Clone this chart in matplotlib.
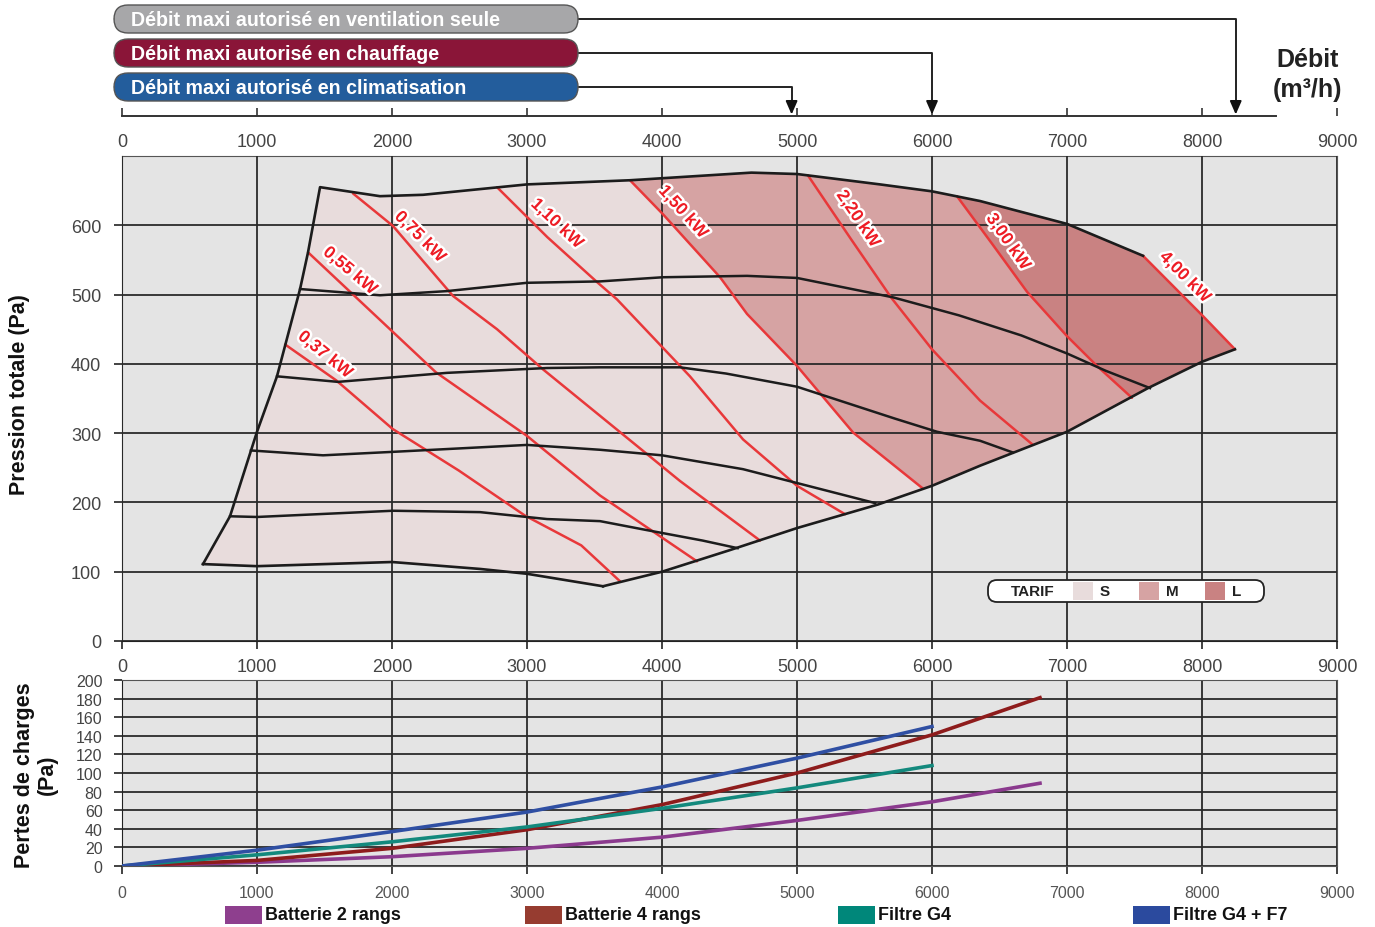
import numpy as np
import matplotlib
matplotlib.use('Agg')
import matplotlib.pyplot as plt
from matplotlib import font_manager
from matplotlib.patches import FancyBboxPatch, Rectangle
import matplotlib.patheffects as pe

plt.rcParams['font.family'] = ['Liberation Sans', 'DejaVu Sans']

# police étroite si dispo, sinon Liberation Sans un peu plus petite
_names = {f.name for f in font_manager.fontManager.ttflist}
if 'Liberation Sans Narrow' in _names:
    NARROW, NSCALE = ['Liberation Sans Narrow', 'DejaVu Sans'], 1.0
else:
    NARROW, NSCALE = ['Liberation Sans', 'DejaVu Sans'], 0.83

# --- courbe ventilateur : enveloppe (débit m3/h, pression Pa) ---
left_x = [600, 800, 1000, 1148, 1319, 1378, 1467]
left_y = [111, 180, 302, 382, 508, 561, 655]
top_x = [1467, 1911, 2230, 3000, 3763, 4662, 5000, 5615, 6000, 6356, 7000, 7563]
top_y = [655, 642, 644, 659, 665, 676, 674, 659, 649, 635, 602, 556]
low_x = [3563, 4000, 4500, 5000, 5600, 6000, 6356, 7000, 7600, 8000, 8244]
low_y = [79, 100, 131, 163, 197, 224, 253, 302, 365, 403, 421]
base_x = [600, 1000, 2000, 2652, 3000, 3563]
base_y = [111, 108, 114, 104, 97, 79]

# --- courbes de vitesse (noir) ---
spdA_x = [1319, 1911, 2407, 3000, 3541, 4007, 4630, 5000, 5711, 6200, 6662, 7000, 7287, 7615]
spdA_y = [508, 499, 505, 517, 519, 525, 527, 524, 496, 470, 441, 415, 390, 365]
spdB_x = [1148, 1600, 2407, 3148, 3541, 4133, 4475, 5000, 5725, 6037, 6356, 6600]
spdB_y = [382, 374, 387, 394, 395, 395, 386, 367, 321, 302, 289, 272]
spdC_x = [955, 1489, 2007, 3000, 3541, 4000, 4600, 5000, 5300, 5580]
spdC_y = [275, 268, 273, 283, 276, 268, 248, 228, 213, 199]
spdD_x = [800, 1000, 2007, 2652, 3148, 3541, 3889, 4300, 4560]
spdD_y = [180, 179, 188, 186, 176, 173, 160, 145, 134]

# --- puissances moteur (rouge) ---
p037_x = [1208, 1588, 2005, 2495, 2985, 3402, 3690]
p037_y = [428, 376, 306, 246, 181, 138, 86]
p055_x = [1378, 1985, 2324, 3000, 3541, 4259]
p055_y = [561, 450, 388, 296, 210, 115]
p075_x = [1711, 2007, 2452, 2778, 3119, 3541, 4133, 4726]
p075_y = [646, 599, 498, 450, 392, 325, 231, 145]
p110_x = [2778, 3150, 3519, 3667, 4207, 4600, 5000, 5356]
p110_y = [655, 583, 518, 493, 382, 291, 224, 183]
p150_x = [3763, 4007, 4430, 4630, 5000, 5415, 5933]
p150_y = [665, 616, 525, 472, 397, 301, 220]
p220_x = [5081, 5400, 5700, 6000, 6356, 6748]
p220_y = [672, 580, 495, 421, 347, 283]
p300_x = [6185, 6450, 6704, 7000, 7222, 7481]
p300_y = [642, 572, 504, 440, 397, 351]
p400_x = [7563, 8007, 8244]
p400_y = [556, 469, 421]

power_labels = ['0,37 kW', '0,55 kW', '0,75 kW', '1,10 kW', '1,50 kW', '2,20 kW', '3,00 kW', '4,00 kW']
label_pos = [(1504, 413), (1689, 534), (2207, 583), (3222, 602),
             (4156, 619), (5452, 609), (6563, 576), (7874, 525)]
label_rot = [-39, -40, -45, -43, -48, -56, -55, -45]

# --- débits maxi ---
banner_labels = ['Débit maxi autorisé en ventilation seule',
                 'Débit maxi autorisé en chauffage',
                 'Débit maxi autorisé en climatisation']
banner_flow = [8250, 6000, 4960]
banner_colors = ['#a7a7a9', '#8a1538', '#235d9c']

# --- pertes de charges (Pa) ---
flow_bat = [0, 1000, 2000, 3000, 4000, 5000, 6000, 6800]
bat2 = [0, 4, 10, 19, 31, 49, 69, 89]
bat4 = [0, 6, 19, 39, 66, 100, 141, 181]
flow_filt = [0, 1000, 2000, 3000, 4000, 5000, 6000]
filt_g4 = [0, 12, 26, 42, 62, 84, 108]
filt_g4f7 = [0, 17, 37, 58, 85, 116, 150]
loss_names = ['Batterie 2 rangs', 'Batterie 4 rangs', 'Filtre G4', 'Filtre G4 + F7']
loss_colors = ['#8b3a8e', '#8e1c1c', '#13897d', '#2f4fa3']
swatch_colors = ['#8e3f8e', '#963c30', '#00877a', '#2b4a9e']

tarif_names = ['S', 'M', 'L']
tarif_colors = ['#e8dcdc', '#d6a3a3', '#c98282']


def between(xs, ys, x0, x1):
    xs = np.asarray(xs)
    ys = np.asarray(ys)
    m = (xs > x0) & (xs < x1)
    return list(xs[m]), list(ys[m])


fig = plt.figure(figsize=(13.75, 9.28), dpi=100)
W, H = 1375.0, 928.0
GRID = '#2a2a2a'
TXT = '#444444'

# ================= courbe principale =================
ax = fig.add_axes([122 / W, 1 - 642 / H, 1215 / W, 485 / H])
ax.set_facecolor('#e4e4e4')
ax.set_xlim(0, 9000)
ax.set_ylim(0, 700)
ax.set_xticks(range(0, 9001, 1000))
ax.set_yticks(range(0, 601, 100))
ax.grid(True, color=GRID, lw=1.3)
ax.set_axisbelow(False)
ax.tick_params(direction='out', length=6, width=1.2, color='#222', labelcolor=TXT, labelsize=13)
ax.tick_params(axis='y', pad=9)
ax.tick_params(axis='x', pad=6)
for s in ax.spines.values():
    s.set_color('#555')
ax.spines['left'].set_color('#222')
ax.spines['bottom'].set_color('#222')

# zones tarif
env_x = left_x + top_x[1:] + p400_x[1:] + low_x[::-1][1:] + base_x[::-1][1:]
env_y = left_y + top_y[1:] + p400_y[1:] + low_y[::-1][1:] + base_y[::-1][1:]
ax.fill(env_x, env_y, color=tarif_colors[0], lw=0, zorder=1)

bx, by = between(low_x, low_y, p150_x[-1], p300_x[-1])
tx, ty = between(top_x, top_y, p150_x[0], p300_x[0])
ax.fill(p150_x + bx + p300_x[::-1] + tx[::-1], p150_y + by + p300_y[::-1] + ty[::-1],
        color=tarif_colors[1], lw=0, zorder=1)

bx, by = between(low_x, low_y, p300_x[-1], p400_x[-1])
tx, ty = between(top_x, top_y, p300_x[0], p400_x[0])
ax.fill(p300_x + bx + p400_x[::-1] + tx[::-1], p300_y + by + p400_y[::-1] + ty[::-1],
        color=tarif_colors[2], lw=0, zorder=1)

# puissances
powers = [(p037_x, p037_y), (p055_x, p055_y), (p075_x, p075_y), (p110_x, p110_y),
          (p150_x, p150_y), (p220_x, p220_y), (p300_x, p300_y), (p400_x, p400_y)]
for (px, py) in powers:
    ax.plot(px, py, color='#e8383a', lw=1.8, zorder=3, solid_capstyle='round')

# courbes de vitesse + enveloppe
for cx, cy in [(spdA_x, spdA_y), (spdB_x, spdB_y), (spdC_x, spdC_y), (spdD_x, spdD_y)]:
    ax.plot(cx, cy, color='#1c1c1c', lw=1.8, zorder=3.2)
ax.plot(left_x + top_x[1:], left_y + top_y[1:], color='#1c1c1c', lw=1.9, zorder=3.2)
ax.plot(low_x, low_y, color='#1c1c1c', lw=1.9, zorder=3.2)
ax.plot(base_x, base_y, color='#1c1c1c', lw=1.9, zorder=3.2)

for lab, (lx, ly), rot in zip(power_labels, label_pos, label_rot):
    ax.text(lx, ly, lab, rotation=rot, rotation_mode='anchor', ha='center', va='center',
            color='#ee1c25', fontsize=12.5, fontweight='bold', zorder=5,
            path_effects=[pe.withStroke(linewidth=3.5, foreground='white')])

# légende tarif
axl = fig.add_axes([985 / W, 1 - 605 / H, 282 / W, 26 / H])
axl.set_xlim(0, 282)
axl.set_ylim(0, 26)
axl.axis('off')
axl.add_patch(FancyBboxPatch((3, 2), 276, 22, boxstyle='round,pad=0,rounding_size=9',
                             fc='white', ec='#222', lw=1.3))
axl.text(48, 13, 'TARIF', ha='center', va='center', fontsize=11, fontweight='bold', color='#222')
for i, (nm, col) in enumerate(zip(tarif_names, tarif_colors)):
    x0 = 88 + i * 66
    axl.add_patch(Rectangle((x0, 4), 20, 18, fc=col, ec='none'))
    axl.text(x0 + 27, 13, nm, ha='left', va='center', fontsize=11, fontweight='bold', color='#222')

# ================= axe du haut : débits maxi =================
axt = fig.add_axes([122 / W, 1 - 117 / H, 1215 / W, 117 / H])
axt.set_xlim(0, 9000)
axt.set_ylim(0, 117)
axt.patch.set_visible(False)
for k in ['top', 'left', 'right']:
    axt.spines[k].set_visible(False)
axt.spines['bottom'].set_bounds(0, 8550)
axt.spines['bottom'].set_color('#333')
axt.spines['bottom'].set_linewidth(1.4)
axt.set_yticks([])
axt.set_xticks(range(0, 9001, 1000))
axt.tick_params(axis='x', direction='in', length=6, width=1.2, color='#333',
                labelcolor=TXT, labelsize=13, pad=12)

bx0, bx1 = -59, 3378
b_centers = [97, 63, 29]
for lab, flow, col, yc in zip(banner_labels, banner_flow, banner_colors, b_centers):
    axt.add_patch(FancyBboxPatch((bx0, yc - 14), bx1 - bx0, 28,
                                 boxstyle='round,pad=0,rounding_size=104', mutation_aspect=0.135,
                                 fc=col, ec='#555', lw=1.0, clip_on=False, zorder=3))
    axt.text(67, yc, lab, ha='left', va='center', color='white', fontsize=17 * NSCALE,
             fontweight='bold', family=NARROW, zorder=4, clip_on=False)
    axt.plot([bx1, flow, flow], [yc, yc, 12], color='#222', lw=1.4, zorder=2, clip_on=False)
    axt.annotate('', xy=(flow, 1.5), xytext=(flow, 14),
                 arrowprops=dict(arrowstyle='-|>,head_length=0.8,head_width=0.35',
                                 color='#111', lw=1.4, shrinkA=0, shrinkB=0))

fig.text(1308 / W, 1 - 75 / H, 'Débit\n(m³/h)', ha='center', va='center', fontsize=18,
         fontweight='bold', color='#222', linespacing=1.35)

# ================= pertes de charges =================
ax2 = fig.add_axes([122 / W, 1 - 867 / H, 1215 / W, 186 / H])
ax2.set_facecolor('#e4e4e4')
ax2.set_xlim(0, 9000)
ax2.set_ylim(0, 200)
ax2.set_xticks(range(0, 9001, 1000))
ax2.set_yticks(range(0, 201, 20))
ax2.grid(True, color=GRID, lw=1.3)
ax2.set_axisbelow(True)
ax2.tick_params(direction='out', length=6, width=1.2, color='#222', labelcolor=TXT, labelsize=11.5)
ax2.tick_params(axis='y', pad=8)
ax2.tick_params(axis='x', pad=8, labelcolor='#555')
for s in ax2.spines.values():
    s.set_color('#555')
ax2.spines['left'].set_color('#222')

series = [(flow_bat, bat2), (flow_bat, bat4), (flow_filt, filt_g4), (flow_filt, filt_g4f7)]
for (fx, fy), col in zip(series, loss_colors):
    ax2.plot(fx, fy, color=col, lw=2.6, zorder=3)

# légende du bas
leg_x = [225, 525, 838, 1133]
for nm, col, x0 in zip(loss_names, swatch_colors, leg_x):
    fig.patches.append(Rectangle((x0 / W, 1 - 925 / H), 37 / W, 18 / H, fc=col, ec='none',
                                 transform=fig.transFigure, figure=fig))
    fig.text((x0 + 40) / W, 1 - 916 / H, nm, ha='left', va='center', fontsize=15.5 * NSCALE,
             fontweight='bold', family=NARROW, color='#111')

fig.text(20 / W, 1 - 395 / H, 'Pression totale (Pa)', rotation=90, ha='center', va='center',
         fontsize=15.5, fontweight='bold', color='#111')
fig.text(36 / W, 1 - 775 / H, 'Pertes de charges\n(Pa)', rotation=90, ha='center', va='center',
         fontsize=15.5, fontweight='bold', color='#111', multialignment='center',
         linespacing=1.15)

fig.savefig('out.png', dpi=100, facecolor='white')
